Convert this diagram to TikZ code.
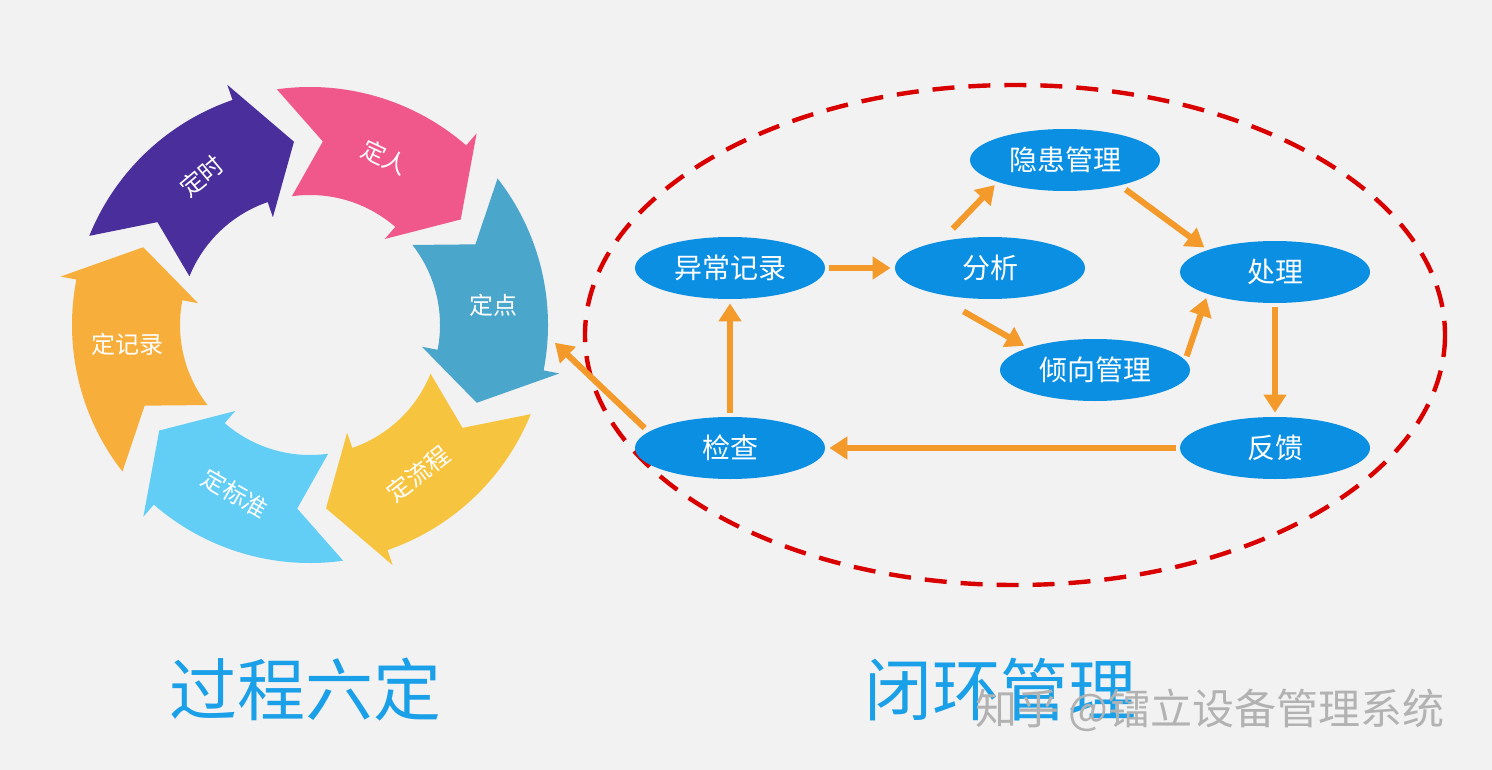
\documentclass[tikz,border=0pt]{standalone}
\usepackage{fontspec}
\newfontfamily\cjk{Noto Sans CJK SC}
\usetikzlibrary{shapes.geometric,arrows.meta}
\definecolor{bg}{HTML}{F2F2F2}
\definecolor{eblue}{HTML}{0A8FE3}
\definecolor{aor}{HTML}{F39A2B}
\definecolor{tblue}{HTML}{1AA0E8}
\definecolor{cA}{HTML}{F0588C}
\definecolor{cB}{HTML}{4BA6CB}
\definecolor{cC}{HTML}{F7C440}
\definecolor{cD}{HTML}{62CDF5}
\definecolor{cE}{HTML}{F7AE3A}
\definecolor{cF}{HTML}{4A2F9C}
\begin{document}
\begin{tikzpicture}[x=0.5pt,y=-0.5pt,font=\cjk,
  el/.style={ellipse,fill=eblue,text=white,minimum width=95pt,minimum height=31pt,inner sep=0pt,font=\cjk\fontsize{14}{14}\selectfont},
  oa/.style={draw=aor,line width=3pt,-{Triangle[length=9pt,width=11pt]},shorten >=2pt,shorten <=2pt},
  seg/.style={font=\cjk\fontsize{12}{12}\selectfont,text=white,inner sep=0pt}]
\fill[bg] (0,0) rectangle (1492,770);
\useasboundingbox (0,0) rectangle (1492,770);
% ring
\begin{scope}[shift={(310,325)},x=0.5pt,y=0.5pt]
\def\Ro{238}\def\Ri{130}\def\Rm{184}
\foreach \A/\c/\t/\r in {98/cA/定人/-25, 38/cB/定点/0, -22/cC/定流程/38, -82/cD/定标准/-30, -142/cE/定记录/0, 158/cF/定时/40}{
  \pgfmathsetmacro\B{\A-49}
  \pgfmathsetmacro\T{\A-63}
  \pgfmathsetmacro\N{\A-12}
  \pgfmathsetmacro\L{\A-32}
  \fill[\c] (\A:\Ro) arc (\A:\B:\Ro) -- (\B:\Ro+16) -- (\T:\Rm) -- (\B:\Ri-16) -- (\B:\Ri) arc (\B:\A:\Ri) -- (\N:\Rm) -- cycle;
  \node[seg,rotate=\r] (s\c) at (\L:\Rm) {\t};
}
\end{scope}
\coordinate (dp) at (552,340);
% closed loop
\draw[red!85!black,line width=2.2pt,dash pattern=on 11pt off 7pt] (1015,335) ellipse [x radius=430,y radius=250];
\node[el] (yc) at (730,268) {异常记录};
\node[el] (fx) at (990,268) {分析};
\node[el] (yh) at (1065,160) {隐患管理};
\node[el] (cl) at (1275,272) {处理};
\node[el] (qx) at (1095,370) {倾向管理};
\node[el] (fk) at (1275,448) {反馈};
\node[el] (jc) at (730,448) {检查};
\draw[oa] (yc) -- (fx);
\draw[oa] (fx.north) ++(-40,-5) coordinate (p1) (p1) -- (yh.south west);
\draw[oa] (yh.south east) ++(-10,5) coordinate (p2) (p2) -- (cl.north west);
\draw[oa] (fx.south) ++(-30,10) coordinate (p3) (p3) -- (qx.north west);
\draw[oa] (qx.east) ++(-5,-10) coordinate (p4) (p4) -- (cl.south west);
\draw[oa] (cl) -- (fk);
\draw[oa] (fk) -- (jc);
\draw[oa] (jc) -- (yc);
\draw[oa] (jc.north west) ++(-15,5) coordinate (p5) (p5) -- (dp);
% titles
\node[text=tblue,font=\cjk\fontsize{34}{34}\selectfont] (t1) at (305,690) {过程六定};
\node[text=tblue,font=\cjk\fontsize{34}{34}\selectfont] (t2) at (1000,690) {闭环管理};
\node[text=gray!60,font=\cjk\fontsize{21}{21}\selectfont] (wm) at (1210,710) {知乎 @镭立设备管理系统};
\end{tikzpicture}
\end{document}
